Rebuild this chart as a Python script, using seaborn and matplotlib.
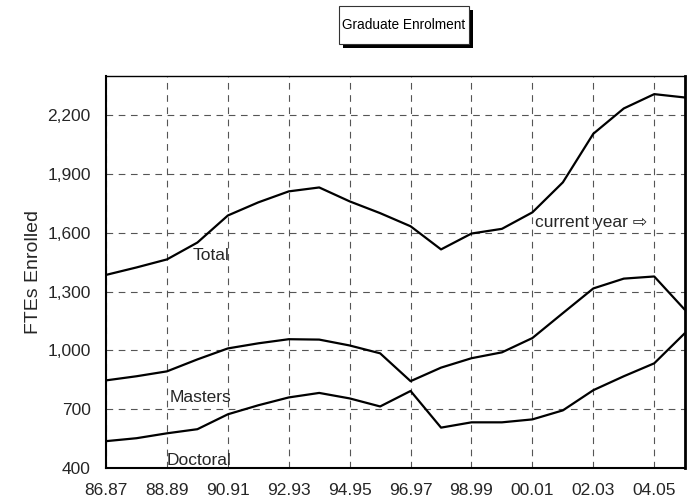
import matplotlib
matplotlib.use("Agg")
import matplotlib.pyplot as plt
import matplotlib.patches as patches
import numpy as np
import pandas as pd
import seaborn as sns

# academic years 86.87 .. 05.06
years = ["86.87", "87.88", "88.89", "89.90", "90.91", "91.92", "92.93", "93.94",
         "94.95", "95.96", "96.97", "97.98", "98.99", "99.00", "00.01", "01.02",
         "02.03", "03.04", "04.05", "05.06"]
total = [1385, 1423, 1464, 1550, 1688, 1755, 1811, 1831, 1760, 1700,
         1633, 1515, 1596, 1620, 1704, 1857, 2105, 2234, 2307, 2290]
masters = [847, 868, 893, 954, 1010, 1036, 1057, 1055, 1025, 985,
           843, 912, 960, 990, 1063, 1190, 1316, 1366, 1377, 1208]
doctoral = [537, 552, 577, 598, 674, 720, 760, 783, 755, 714,
            793, 606, 633, 633, 648, 694, 797, 868, 934, 1087]
yticks = [400, 700, 1000, 1300, 1600, 1900, 2200]

df = pd.DataFrame({"idx": np.arange(len(years)), "Total": total,
                   "Masters": masters, "Doctoral": doctoral})

sns.set_style("white")
plt.rcParams["font.family"] = ["Liberation Sans", "DejaVu Sans"]

W, H = 693, 504
fig = plt.figure(figsize=(W / 100, H / 100), dpi=100)
ax = fig.add_axes([0.153, 0.0714, 0.835, 0.778])

for col in ["Total", "Masters", "Doctoral"]:
    sns.lineplot(data=df, x="idx", y=col, ax=ax, color="black", linewidth=1.6)

ax.set_xlim(0, len(years) - 1)
ax.set_ylim(400, 2400)
ax.set_xticks(np.arange(0, len(years), 2))
ax.set_xticklabels(years[::2], fontsize=12.5)
ax.set_yticks(yticks)
ax.set_yticklabels([f"{v:,}" for v in yticks], fontsize=12.5)
ax.tick_params(axis="both", length=0, pad=11)
ax.set_xlabel("")
ax.set_ylabel("FTEs Enrolled", fontsize=14)
ax.yaxis.set_label_coords(-0.11, 0.5)

ax.grid(True, color="#555555", linestyle=(0, (6, 5)), linewidth=0.8)
for side in ["left", "right", "top", "bottom"]:
    ax.spines[side].set_color("black")
ax.spines["left"].set_linewidth(1.5)
ax.spines["bottom"].set_linewidth(1.5)
ax.spines["right"].set_linewidth(2.0)
ax.spines["top"].set_linewidth(1.0)

# series labels
ax.text(2.85, 1484, "Total", fontsize=12.5, va="center", ha="left")
ax.text(2.1, 761, "Masters", fontsize=12.5, va="center", ha="left")
ax.text(2.0, 439, "Doctoral", fontsize=12.5, va="center", ha="left")
ax.text(14.07, 1651, "current year \u21e8", fontsize=12.5, va="center", ha="left")

# boxed title with drop shadow (box drawn in pixel units of the figure)
bx0, bx1, by0, by1 = 339, 469, 6, 44
shadow = patches.Rectangle(((bx0 + 4) / W, 1 - (by1 + 4) / H), (bx1 - bx0) / W,
                           (by1 - by0) / H, transform=fig.transFigure,
                           facecolor="black", edgecolor="none")
box = patches.Rectangle((bx0 / W, 1 - by1 / H), (bx1 - bx0) / W, (by1 - by0) / H,
                        transform=fig.transFigure, facecolor="white",
                        edgecolor="#333333", linewidth=0.8)
fig.patches.extend([shadow, box])
fig.text((bx0 + bx1) / 2 / W, 1 - (by0 + by1) / 2 / H, "Graduate Enrolment",
         fontsize=9.8, ha="center", va="center", color="black")

fig.savefig("out.png", dpi=100)
